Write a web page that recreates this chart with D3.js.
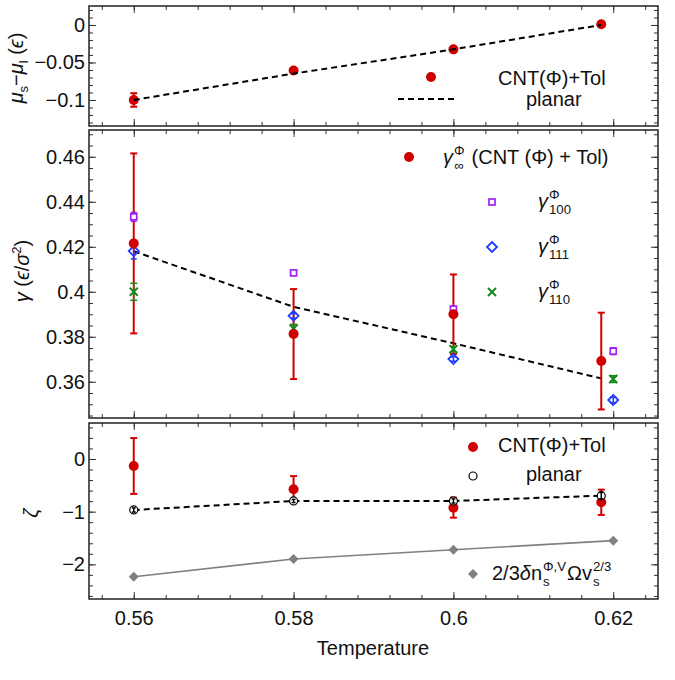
<!DOCTYPE html>
<html>
<head>
<meta charset="utf-8">
<script src="https://cdn.jsdelivr.net/npm/d3@7"></script>
<style>
  body { margin: 0; background: #fff; }
  text { font-family: "Liberation Sans", Arial, sans-serif; fill: #111; }
</style>
</head>
<body>
<div id="chart"></div>
<script>
// ---- data ----
const temps = [0.56, 0.58, 0.6, 0.6185];      // CNT + planar points
const tempsSide = [0.56, 0.58, 0.6, 0.62];     // facet gammas / delta-n term

// top panel: mu_s - mu_l
const dmuCNT = [-0.100, -0.0608, -0.0325, 0.001];
const dmuCNTErr = [0.009, 0.003, 0.002, 0.002];
const dmuPlanar = [-0.100, -0.0648, -0.0325, 0.0];

// middle panel: gamma
const gammaCNT = [0.4215, 0.3812, 0.3900, 0.3692];
const gammaCNTErr = [0.040, 0.020, 0.0177, 0.0215];
const gamma100 = [0.4333, 0.4084, 0.3923, 0.3736];
const gamma100Err = [0.002, 0.0008, 0.0008, 0.0015];
const gamma111 = [0.4181, 0.3893, 0.3701, 0.3519];
const gamma111Err = [0.0035, 0.001, 0.001, 0.0012];
const gamma110 = [0.4000, 0.3837, 0.3745, 0.3612];
const gamma110Err = [0.0038, 0.0018, 0.0012, 0.0015];
const gammaPlanar = [0.418, 0.3933, 0.3771, 0.3615];

// bottom panel: zeta
const zetaCNT = [-0.133, -0.575, -0.924, -0.822];
const zetaCNTErr = [0.53, 0.25, 0.19, 0.24];
const zetaPlanar = [-0.968, -0.797, -0.797, -0.696];
const zetaPlanarErr = [0.04, 0.03, 0.04, 0.06];
const zetaDn = [-2.235, -1.899, -1.722, -1.55];

// ticks
const xMajor = [0.56, 0.58, 0.6, 0.62];
const topMajor = [-0.1, -0.05, 0];
const midMajor = [0.36, 0.38, 0.4, 0.42, 0.44, 0.46];
const botMajor = [-2, -1, 0];

const red = "#d00000", purple = "#a020f0", blue = "#1e3cff", green = "#12891a", gray = "#808080";

const W = 675, H = 680, left = 89, right = 658;

const svg = d3.select("#chart").append("svg")
    .attr("width", W)
    .attr("height", H);

const x = d3.scaleLinear().domain([0.5544, 0.6256]).range([left, right]);
const xMinor = d3.range(0.556, 0.6245, 0.004);

const yTop = d3.scaleLinear().domain([-0.1347, 0.0253]).range([126, 6]);
const yMid = d3.scaleLinear().domain([0.3439, 0.4719]).range([418, 130]);
const yBot = d3.scaleLinear().domain([-2.658, 0.683]).range([599, 423]);

const fmt = d3.format("~g");

// frame + inward ticks on all four sides
function frame(y, major, minor, xLabels) {
    const [b, t] = y.range();
    const g = svg.append("g");
    const ax = (gen, tr) => g.append("g")
        .attr("transform", tr)
        .call(gen)
        .call(s => s.select(".domain").remove())
        .call(s => s.selectAll("line").attr("stroke", "#333"))
        .call(s => s.selectAll("text").style("font-size", "20px").attr("fill", "#111"));

    ax(d3.axisBottom(x).tickValues(xMajor).tickSize(-7).tickPadding(12).tickFormat(xLabels ? fmt : ""), `translate(0,${b})`);
    ax(d3.axisBottom(x).tickValues(xMinor).tickSize(-4).tickFormat(""), `translate(0,${b})`);
    ax(d3.axisTop(x).tickValues(xMajor).tickSize(-7).tickFormat(""), `translate(0,${t})`);
    ax(d3.axisTop(x).tickValues(xMinor).tickSize(-4).tickFormat(""), `translate(0,${t})`);
    ax(d3.axisLeft(y).tickValues(major).tickSize(-7).tickPadding(4).tickFormat(fmt), `translate(${left},0)`);
    ax(d3.axisLeft(y).tickValues(minor).tickSize(-4).tickFormat(""), `translate(${left},0)`);
    ax(d3.axisRight(y).tickValues(major).tickSize(-7).tickFormat(""), `translate(${right},0)`);
    ax(d3.axisRight(y).tickValues(minor).tickSize(-4).tickFormat(""), `translate(${right},0)`);

    g.append("rect")
        .attr("x", left).attr("y", t)
        .attr("width", right - left).attr("height", b - t)
        .attr("fill", "none")
        .attr("stroke", "#222")
        .attr("stroke-width", 1.5);
    return g;
}

function errbars(g, xs, ys, es, y, color, cap, sw) {
    const d = d3.zip(xs, ys, es);
    const eg = g.append("g").attr("stroke", color).attr("stroke-width", sw);
    eg.selectAll(".v").data(d).enter().append("line")
        .attr("x1", d => x(d[0])).attr("x2", d => x(d[0]))
        .attr("y1", d => y(d[1] + d[2])).attr("y2", d => y(d[1] - d[2]));
    [1, -1].forEach(s => {
        eg.selectAll(".c" + s).data(d).enter().append("line")
            .attr("x1", d => x(d[0]) - cap).attr("x2", d => x(d[0]) + cap)
            .attr("y1", d => y(d[1] + s * d[2])).attr("y2", d => y(d[1] + s * d[2]));
    });
}

const diamond = r => `M0,${-r}L${r},0L0,${r}L${-r},0Z`;
const cross = r => `M${-r},${-r}L${r},${r}M${-r},${r}L${r},${-r}`;

function dashed(g, xs, ys, y) {
    g.append("path")
        .datum(d3.zip(xs, ys))
        .attr("d", d3.line().x(d => x(d[0])).y(d => y(d[1])))
        .attr("fill", "none")
        .attr("stroke", "#000")
        .attr("stroke-width", 2)
        .attr("stroke-dasharray", "6,4");
}

// text with stacked super/subscripts
function mathText(g, x0, y0, parts, size) {
    let cx = x0;
    const s = size * 0.66;
    parts.forEach(p => {
        if (p.t) {
            const el = g.append("text").attr("x", cx).attr("y", y0)
                .style("font-size", size + "px")
                .style("font-style", p.it ? "italic" : null)
                .text(p.t);
            cx += el.node().getComputedTextLength();
        }
        if (p.sup || p.sub) {
            let w = 0;
            if (p.sup) {
                const e = g.append("text").attr("x", cx + 1).attr("y", y0 - size * 0.45)
                    .style("font-size", s + "px").text(p.sup);
                w = Math.max(w, e.node().getComputedTextLength());
            }
            if (p.sub) {
                const e = g.append("text").attr("x", cx + 1).attr("y", y0 + size * 0.28)
                    .style("font-size", s + "px").text(p.sub);
                w = Math.max(w, e.node().getComputedTextLength());
            }
            cx += w + 2;
        }
        if (p.gap) cx += p.gap;
    });
}

// ---------- top panel ----------
const gT = frame(yTop, topMajor, d3.range(-0.13, 0.021, 0.01), false);
errbars(gT, temps, dmuCNT, dmuCNTErr, yTop, red, 3.5, 2);
gT.selectAll(".dot").data(d3.zip(temps, dmuCNT)).enter().append("circle")
    .attr("cx", d => x(d[0])).attr("cy", d => yTop(d[1])).attr("r", 5).attr("fill", red);
dashed(gT, temps, dmuPlanar, yTop);

gT.append("circle").attr("cx", 431).attr("cy", 77).attr("r", 5).attr("fill", red);
gT.append("text").attr("x", 498).attr("y", 85).style("font-size", "20px").text("CNT(Φ)+Tol");
gT.append("line").attr("x1", 398).attr("x2", 455).attr("y1", 99).attr("y2", 99)
    .attr("stroke", "#000").attr("stroke-width", 2).attr("stroke-dasharray", "6,4");
gT.append("text").attr("x", 526).attr("y", 106).style("font-size", "20px").text("planar");

// ---------- middle panel ----------
const gM = frame(yMid, midMajor, d3.range(0.345, 0.4705, 0.005), false);
dashed(gM, temps, gammaPlanar, yMid);
errbars(gM, temps, gammaCNT, gammaCNTErr, yMid, red, 3.5, 2);
errbars(gM, tempsSide, gamma100, gamma100Err, yMid, purple, 3, 1.5);
errbars(gM, tempsSide, gamma111, gamma111Err, yMid, blue, 3, 1.5);
errbars(gM, tempsSide, gamma110, gamma110Err, yMid, green, 3.5, 1.5);

gM.selectAll(".sq").data(d3.zip(tempsSide, gamma100)).enter().append("rect")
    .attr("x", d => x(d[0]) - 3).attr("y", d => yMid(d[1]) - 3)
    .attr("width", 6).attr("height", 6)
    .attr("fill", "#fff").attr("stroke", purple).attr("stroke-width", 1.7);
gM.selectAll(".dm").data(d3.zip(tempsSide, gamma111)).enter().append("path")
    .attr("transform", d => `translate(${x(d[0])},${yMid(d[1])})`)
    .attr("d", diamond(5))
    .attr("fill", "none").attr("stroke", blue).attr("stroke-width", 1.8);
gM.selectAll(".cx").data(d3.zip(tempsSide, gamma110)).enter().append("path")
    .attr("transform", d => `translate(${x(d[0])},${yMid(d[1])})`)
    .attr("d", cross(4))
    .attr("fill", "none").attr("stroke", green).attr("stroke-width", 2);
gM.selectAll(".dot").data(d3.zip(temps, gammaCNT)).enter().append("circle")
    .attr("cx", d => x(d[0])).attr("cy", d => yMid(d[1])).attr("r", 5).attr("fill", red);

// middle legend
gM.append("circle").attr("cx", 409).attr("cy", 157).attr("r", 5).attr("fill", red);
mathText(gM, 443, 164, [{ t: "γ", it: true, sup: "Φ", sub: "∞", gap: 6 }, { t: "(CNT (Φ) + Tol)" }], 20);
gM.append("rect").attr("x", 489).attr("y", 199).attr("width", 6).attr("height", 6)
    .attr("fill", "#fff").attr("stroke", purple).attr("stroke-width", 1.7);
mathText(gM, 538, 208, [{ t: "γ", it: true, sup: "Φ", sub: "100" }], 20);
gM.append("path").attr("transform", "translate(492,247)").attr("d", diamond(5))
    .attr("fill", "none").attr("stroke", blue).attr("stroke-width", 1.8);
mathText(gM, 538, 253, [{ t: "γ", it: true, sup: "Φ", sub: "111" }], 20);
gM.append("path").attr("transform", "translate(492,292)").attr("d", cross(4))
    .attr("fill", "none").attr("stroke", green).attr("stroke-width", 2);
mathText(gM, 538, 298, [{ t: "γ", it: true, sup: "Φ", sub: "110" }], 20);

// ---------- bottom panel ----------
const gB = frame(yBot, botMajor, d3.range(-2.6, 0.61, 0.2), true);
gB.append("path")
    .datum(d3.zip(tempsSide, zetaDn))
    .attr("d", d3.line().x(d => x(d[0])).y(d => yBot(d[1])))
    .attr("fill", "none").attr("stroke", gray).attr("stroke-width", 1.6);
gB.selectAll(".gd").data(d3.zip(tempsSide, zetaDn)).enter().append("path")
    .attr("transform", d => `translate(${x(d[0])},${yBot(d[1])})`)
    .attr("d", diamond(5)).attr("fill", gray);
dashed(gB, temps, zetaPlanar, yBot);
errbars(gB, temps, zetaCNT, zetaCNTErr, yBot, red, 3.5, 2);
gB.selectAll(".dot").data(d3.zip(temps, zetaCNT)).enter().append("circle")
    .attr("cx", d => x(d[0])).attr("cy", d => yBot(d[1])).attr("r", 5).attr("fill", red);
gB.selectAll(".pc").data(d3.zip(temps, zetaPlanar)).enter().append("circle")
    .attr("cx", d => x(d[0])).attr("cy", d => yBot(d[1])).attr("r", 4)
    .attr("fill", "#fff").attr("stroke", "#000").attr("stroke-width", 1.2);
errbars(gB, temps, zetaPlanar, zetaPlanarErr, yBot, "#000", 2, 1.5);

// bottom legend
gB.append("circle").attr("cx", 473).attr("cy", 447).attr("r", 5).attr("fill", red);
gB.append("text").attr("x", 498).attr("y", 452).style("font-size", "20px").text("CNT(Φ)+Tol");
gB.append("circle").attr("cx", 473).attr("cy", 476).attr("r", 4)
    .attr("fill", "#fff").attr("stroke", "#000").attr("stroke-width", 1.2);
gB.append("text").attr("x", 526).attr("y", 481).style("font-size", "20px").text("planar");
gB.append("path").attr("transform", "translate(473,574)").attr("d", diamond(5)).attr("fill", gray);
mathText(gB, 492, 580, [
    { t: "2/3" }, { t: "δ", it: true }, { t: "n", sup: "Φ,V", sub: "s" },
    { t: "Ωv", sup: "2/3", sub: "s" }
], 20);

// ---------- axis titles ----------
svg.append("text")
    .attr("x", 373).attr("y", 655)
    .attr("text-anchor", "middle")
    .style("font-size", "20px")
    .text("Temperature");

const t1 = svg.append("text")
    .attr("transform", "translate(23,68) rotate(-90)")
    .attr("text-anchor", "middle")
    .style("font-size", "20px");
t1.append("tspan").style("font-style", "italic").text("μ");
t1.append("tspan").attr("dy", 5).style("font-size", "13px").text("s");
t1.append("tspan").attr("dy", -5).text("−");
t1.append("tspan").style("font-style", "italic").text("μ");
t1.append("tspan").attr("dy", 5).style("font-size", "13px").text("l");
t1.append("tspan").attr("dy", -5).text(" (");
t1.append("tspan").style("font-style", "italic").text("ϵ");
t1.append("tspan").text(")");

const t2 = svg.append("text")
    .attr("transform", "translate(29,271) rotate(-90)")
    .attr("text-anchor", "middle")
    .style("font-size", "20px");
t2.append("tspan").style("font-style", "italic").text("γ");
t2.append("tspan").text(" (");
t2.append("tspan").style("font-style", "italic").text("ϵ");
t2.append("tspan").text("/");
t2.append("tspan").style("font-style", "italic").text("σ");
t2.append("tspan").attr("dy", -8).style("font-size", "13px").text("2");
t2.append("tspan").attr("dy", 8).text(")");

svg.append("text")
    .attr("transform", "translate(38,513) rotate(-90)")
    .attr("text-anchor", "middle")
    .style("font-size", "20px")
    .style("font-style", "italic")
    .text("ζ");
</script>
</body>
</html>
